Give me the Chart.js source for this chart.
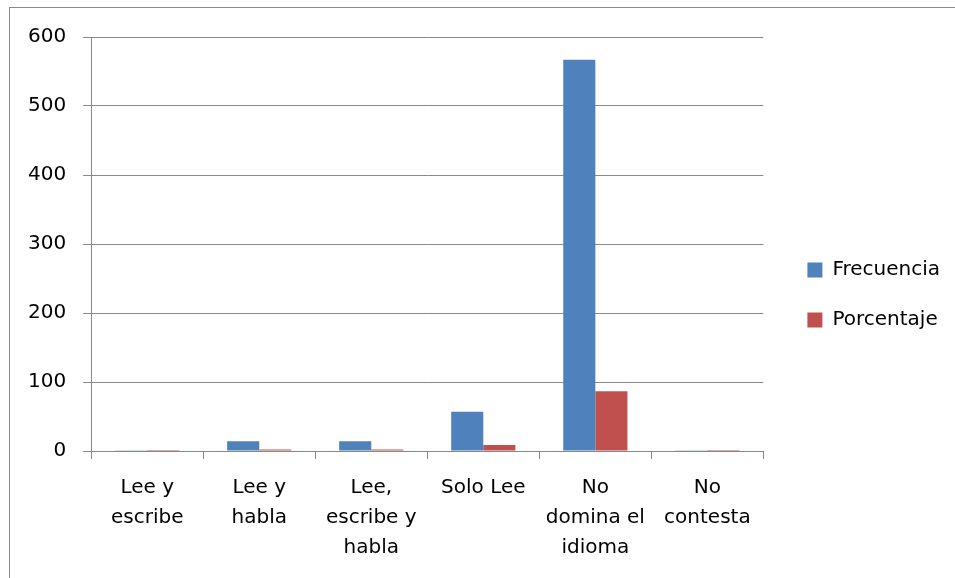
<!DOCTYPE html>
<html>
<head>
<meta charset="utf-8">
<script src="https://cdn.jsdelivr.net/npm/chart.js@4/dist/chart.umd.min.js"></script>
<style>
  html, body { margin:0; padding:0; background:#fff; overflow:hidden; }
  #wrap { position:absolute; left:0; top:0; width:955px; height:578px; }
  #frame { position:absolute; left:9px; top:7px; width:1000px; height:700px; border-left:1px solid #888; border-top:1px solid #888; }
  canvas { position:absolute; left:0; top:0; }
</style>
</head>
<body>
<div id="wrap">
  <div id="frame"></div>
  <canvas id="c" width="955" height="578"></canvas>
</div>
<script>
const categories = [
  ["Lee y", "escribe"],
  ["Lee y", "habla"],
  ["Lee,", "escribe y", "habla"],
  "Solo Lee",
  ["No", "domina el", "idioma"],
  ["No", "contesta"]
];
const frecuencia = [1, 14, 14, 57, 567, 1];
const porcentaje = [0.15, 2.14, 2.14, 8.72, 86.7, 0.15];
const yTicks = [0, 100, 200, 300, 400, 500, 600];

const FONT = "'DejaVu Sans', sans-serif";
const GRID = '#888888';

new Chart(document.getElementById('c'), {
  type: 'bar',
  data: {
    labels: categories,
    datasets: [
      { label: 'Frecuencia', data: frecuencia, backgroundColor: '#4F81BD', categoryPercentage: 0.573, barPercentage: 1.0 },
      { label: 'Porcentaje', data: porcentaje, backgroundColor: '#C0504D', categoryPercentage: 0.573, barPercentage: 1.0 }
    ]
  },
  options: {
    responsive: false,
    animation: false,
    devicePixelRatio: 1,
    layout: { padding: { left: 11, top: 37, right: 5, bottom: 25 } },
    plugins: {
      tooltip: { enabled: false },
      legend: {
        position: 'right',
        maxWidth: 400,
        labels: {
          font: { family: FONT, size: 20 },
          color: '#000',
          boxWidth: 15, boxHeight: 15,
          padding: 30
        }
      }
    },
    scales: {
      x: {
        grid: { display: true, drawOnChartArea: false, offset: true, tickLength: 8, color: GRID, lineWidth: 1 },
        border: { display: true, color: GRID },
        ticks: { font: { family: FONT, size: 20, lineHeight: 1.5 }, color: '#000', maxRotation: 0, autoSkip: false, padding: 14 },
        afterFit: (s) => { s.height = 102; }
      },
      y: {
        min: 0, max: 600,
        afterBuildTicks: (s) => { s.ticks = yTicks.map(v => ({ value: v })); },
        grid: { color: GRID, lineWidth: 1, tickLength: 8 },
        border: { display: true, color: GRID },
        ticks: { font: { family: FONT, size: 20 }, color: '#000', padding: 17 }
      },
      yR: {
        position: 'right',
        display: true,
        grid: { display: false },
        border: { display: false },
        ticks: { display: false },
        afterFit: (s) => { s.width = 14; }
      }
    }
  }
});
</script>
</body>
</html>
